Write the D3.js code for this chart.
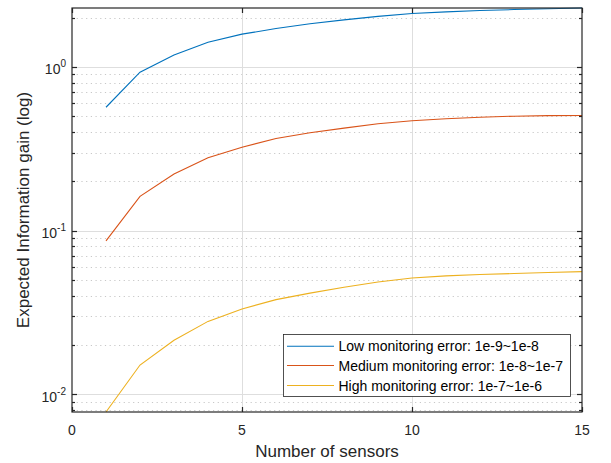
<!DOCTYPE html>
<html>
<head>
<meta charset="utf-8">
<script src="https://cdn.jsdelivr.net/npm/d3@7/dist/d3.min.js"></script>
<style>
  html, body { margin: 0; padding: 0; background: #fff; }
  text { font-family: "Liberation Sans", Arial, Helvetica, sans-serif; fill: #262626; }
</style>
</head>
<body>
<svg id="chart" width="611" height="463"></svg>
<script>
// ---- data ----
const sensors = [1,2,3,4,5,6,7,8,9,10,11,12,13,14,15];
const lowError = [0.567,0.928,1.184,1.416,1.585,1.715,1.833,1.938,2.036,2.118,2.169,2.209,2.24,2.265,2.29];
const mediumError = [0.0865,0.162,0.222,0.279,0.323,0.365,0.396,0.423,0.450,0.469,0.482,0.493,0.500,0.504,0.505];
const highError = [0.0078,0.0151,0.0214,0.0279,0.0332,0.0379,0.0415,0.0451,0.0486,0.0514,0.0529,0.0539,0.0547,0.0555,0.0562];
const seriesNames = ["Low monitoring error: 1e-9~1e-8","Medium monitoring error: 1e-8~1e-7","High monitoring error: 1e-7~1e-6"];
const seriesColors = ["#0072BD","#D95319","#EDB120"];
const xTicks = [0,5,10,15];
const yMajorTicks = [0.01,0.1,1];
const yTickExps = ["-2","-1","0"];
const xLabel = "Number of sensors";
const yLabel = "Expected Information gain (log)";

const series = [lowError, mediumError, highError];

const svg = d3.select("#chart");
const L = 72, R = 582, T = 8, B = 412;
const axisColor = "#262626";

const x = d3.scaleLinear().domain([0,15]).range([L,R]);
const allVals = series.flat();
const y = d3.scaleLog().domain(d3.extent(allVals)).range([B,T]);
const [y0, y1] = y.domain();

// minor ticks
const yMinor = [];
for (let e = -3; e <= 1; e++) {
  for (let m = 2; m <= 9; m++) {
    const v = m * Math.pow(10, e);
    if (v >= y0 && v <= y1) yMinor.push(v);
  }
}

const grid = svg.append("g");
// minor grid (dotted)
grid.selectAll("line.ymin").data(yMinor).enter().append("line")
  .attr("x1", L).attr("x2", R)
  .attr("y1", d => Math.round(y(d)) + 0.5).attr("y2", d => Math.round(y(d)) + 0.5)
  .attr("stroke", "#c8c8c8").attr("stroke-width", 1).attr("stroke-dasharray", "1.2,3.5");
// major grid
grid.selectAll("line.ymaj").data(yMajorTicks).enter().append("line")
  .attr("x1", L).attr("x2", R)
  .attr("y1", d => Math.round(y(d)) + 0.5).attr("y2", d => Math.round(y(d)) + 0.5)
  .attr("stroke", "#dedede").attr("stroke-width", 1);
grid.selectAll("line.xg").data(xTicks.filter(d => d > 0 && d < 15)).enter().append("line")
  .attr("x1", d => Math.round(x(d)) + 0.5).attr("x2", d => Math.round(x(d)) + 0.5)
  .attr("y1", T).attr("y2", B)
  .attr("stroke", "#dedede").attr("stroke-width", 1);

// data lines
const clipId = "plotclip";
svg.append("clipPath").attr("id", clipId).append("rect")
  .attr("x", L).attr("y", T - 1).attr("width", R - L).attr("height", B - T + 2);
const line = d3.line().x((d, i) => x(sensors[i])).y(d => y(d));
svg.append("g").attr("clip-path", `url(#${clipId})`)
  .selectAll("path").data(series).enter().append("path")
  .attr("d", d => line(d))
  .attr("fill", "none")
  .attr("stroke", (d, i) => seriesColors[i])
  .attr("stroke-width", 1.1);

// axes box
const ax = svg.append("g").attr("stroke", axisColor).attr("stroke-width", 1.2).attr("fill", "none");
ax.append("rect").attr("x", L).attr("y", T).attr("width", R - L).attr("height", B - T);

// x ticks (inside, bottom and top)
xTicks.forEach(t => {
  const px = Math.round(x(t)) + 0.5;
  ax.append("line").attr("x1", px).attr("x2", px).attr("y1", B).attr("y2", B - 5);
  ax.append("line").attr("x1", px).attr("x2", px).attr("y1", T).attr("y2", T + 5);
});
// y ticks major and minor (inside, left and right)
yMajorTicks.forEach(t => {
  const py = Math.round(y(t)) + 0.5;
  ax.append("line").attr("x1", L).attr("x2", L + 5).attr("y1", py).attr("y2", py);
  ax.append("line").attr("x1", R).attr("x2", R - 5).attr("y1", py).attr("y2", py);
});
yMinor.forEach(t => {
  const py = Math.round(y(t)) + 0.5;
  ax.append("line").attr("x1", L).attr("x2", L + 3).attr("y1", py).attr("y2", py);
  ax.append("line").attr("x1", R).attr("x2", R - 3).attr("y1", py).attr("y2", py);
});

// x tick labels
svg.append("g").selectAll("text").data(xTicks).enter().append("text")
  .attr("x", d => x(d)).attr("y", 435)
  .attr("text-anchor", "middle").attr("font-size", 14)
  .text(d => d);

// y tick labels
yMajorTicks.forEach((t, i) => {
  const py = y(t);
  const tx = svg.append("text").attr("x", 66).attr("y", py + 7.5)
    .attr("text-anchor", "end").attr("font-size", 14);
  tx.append("tspan").text("10");
  tx.append("tspan").attr("dy", -7).attr("font-size", 10).text(yTickExps[i]);
});

// axis labels
svg.append("text").attr("x", (L + R) / 2).attr("y", 457)
  .attr("text-anchor", "middle").attr("font-size", 17).text(xLabel);
svg.append("text")
  .attr("transform", `translate(28.5,${(T + B) / 2}) rotate(-90)`)
  .attr("text-anchor", "middle").attr("font-size", 17).text(yLabel);

// legend
const lg = svg.append("g");
lg.append("rect").attr("x", 283.5).attr("y", 334.5).attr("width", 287).attr("height", 62)
  .attr("fill", "#fff").attr("stroke", axisColor).attr("stroke-width", 0.8);
const rowY = [346.3, 365.5, 385.5];
seriesNames.forEach((name, i) => {
  lg.append("line").attr("x1", 287).attr("x2", 334).attr("y1", rowY[i]).attr("y2", rowY[i])
    .attr("stroke", seriesColors[i]).attr("stroke-width", 1.1);
  lg.append("text").attr("x", 338.5).attr("y", rowY[i] + 5)
    .attr("font-size", 14).style("fill", "#000").text(name);
});
</script>
</body>
</html>
